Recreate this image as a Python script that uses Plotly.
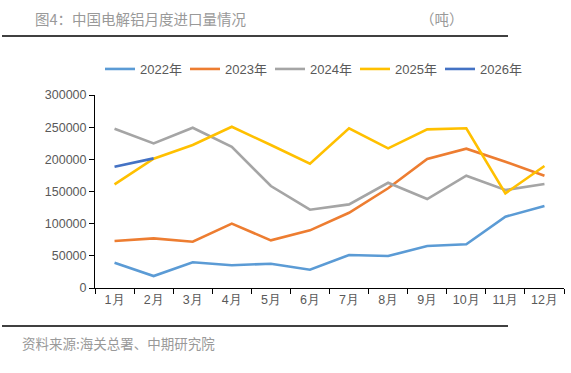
import plotly.graph_objects as go

months = ["1月", "2月", "3月", "4月", "5月", "6月", "7月", "8月", "9月", "10月", "11月", "12月"]
y2022 = [39300, 18600, 40000, 35300, 37800, 28500, 51300, 49700, 65300, 67900, 110800, 127400]
y2023 = [73000, 77200, 72000, 100000, 74100, 89600, 117000, 155000, 200500, 216500, 196300, 174500]
y2024 = [247600, 224800, 249100, 219600, 158500, 121700, 130000, 163600, 138300, 174500, 152300, 161600]
y2025 = [161100, 201000, 222200, 250700, 222200, 193200, 248200, 217100, 246600, 248200, 147200, 189600]
y2026 = [188500, 201500]

series = [
    ("2022年", y2022, "#5B9BD5"),
    ("2023年", y2023, "#ED7D31"),
    ("2024年", y2024, "#A5A5A5"),
    ("2025年", y2025, "#FFC000"),
    ("2026年", y2026, "#4472C4"),
]

fig = go.Figure()
for name, vals, color in series:
    fig.add_trace(go.Scatter(
        x=months[:len(vals)], y=vals, name=name, mode="lines",
        line=dict(color=color, width=2.6),
    ))

tick_font = dict(family="Liberation Sans, Arial, sans-serif", size=12.5, color="#595959")

fig.update_layout(
    width=571, height=373,
    margin=dict(l=95, r=7, t=95, b=85, autoexpand=False),
    paper_bgcolor="white", plot_bgcolor="white",
    showlegend=True,
    legend=dict(
        orientation="h", x=(100 - 95) / 469, xanchor="left",
        y=1 - 69 / 373, yref="container", yanchor="middle",
        font=dict(family="Liberation Sans, Noto Sans CJK SC, sans-serif", size=13, color="#595959"),
        itemwidth=30, tracegroupgap=0, entrywidth=40,
    ),
    xaxis=dict(
        type="category", categoryorder="array", categoryarray=months,
        showline=True, linecolor="black", linewidth=1,
        ticks="outside", tickson="boundaries", ticklen=5, tickcolor="black",
        showgrid=False, tickfont=tick_font, range=[-0.5, 11.5],
    ),
    yaxis=dict(
        range=[0, 300000], dtick=50000, tickformat="d",
        showline=True, linecolor="black", linewidth=1,
        ticks="outside", ticklen=5, tickcolor="black",
        showgrid=False, zeroline=False, tickfont=tick_font,
    ),
)

title_font = dict(family="Noto Sans CJK SC", size=14.5, color="#999999")
fig.add_annotation(text="图4：中国电解铝月度进口量情况", xref="paper", yref="paper",
                   x=(33 - 95) / 469, y=1 + (95 - 19) / 193, xanchor="left", yanchor="middle",
                   showarrow=False, font=title_font)
fig.add_annotation(text="（吨）", xref="paper", yref="paper",
                   x=(418 - 95) / 469, y=1 + (95 - 19) / 193, xanchor="left", yanchor="middle",
                   showarrow=False, font=title_font)
fig.add_annotation(text="资料来源:海关总署、中期研究院", xref="paper", yref="paper",
                   x=(20 - 95) / 469, y=-(343 - 288) / 193, xanchor="left", yanchor="middle",
                   showarrow=False, font=dict(family="Noto Sans CJK SC", size=13.5, color="#999999"))

for yy in (36, 326):
    fig.add_shape(type="line", xref="paper", yref="paper",
                  x0=(2 - 95) / 469, x1=(508 - 95) / 469,
                  y0=(288 - yy) / 193, y1=(288 - yy) / 193,
                  line=dict(color="black", width=1.5))

fig.write_html("out.html", config={"displayModeBar": False},
               post_script="document.body.style.margin='0';")
